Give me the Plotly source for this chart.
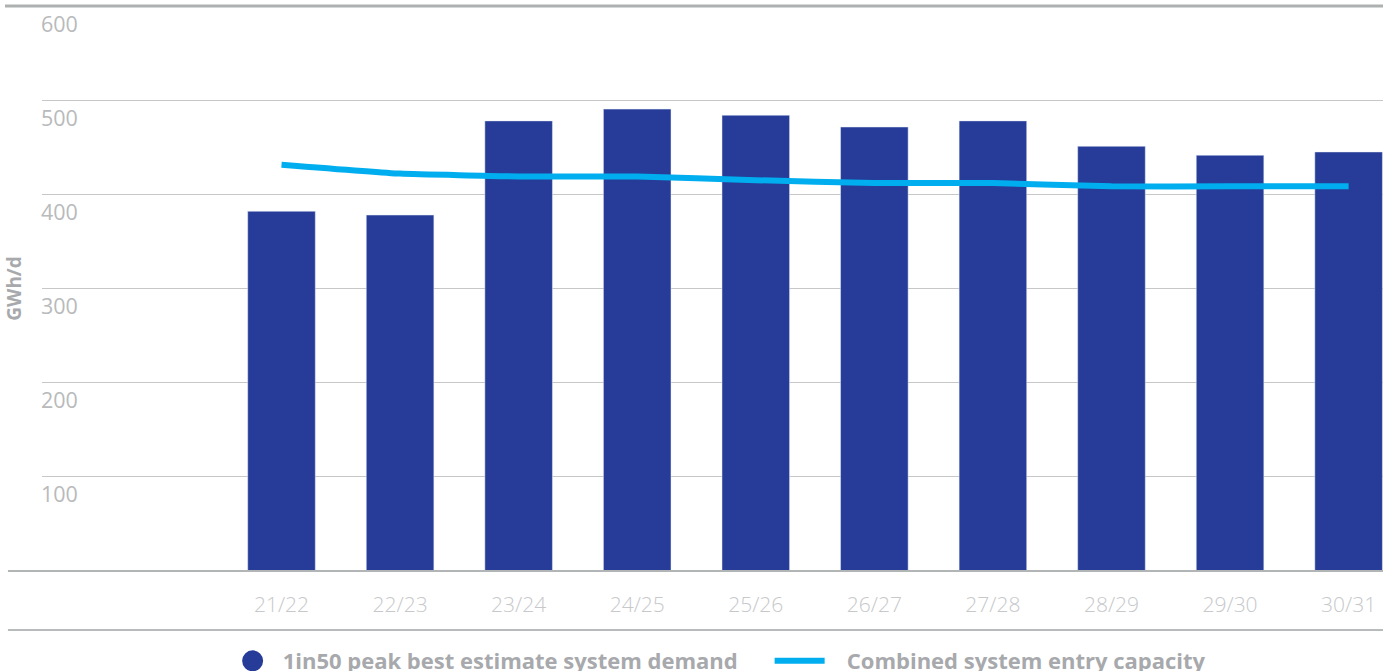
import plotly.graph_objects as go

anos = ['21/22', '22/23', '23/24', '24/25', '25/26', '26/27', '27/28', '28/29', '29/30', '30/31']
demanda = [382, 378, 478, 490.5, 484, 471.5, 478, 451, 441.5, 445]
capacidade = [431.5, 422, 419, 419, 415, 412, 412, 408.5, 408.5, 408.5]
ytks = [100, 200, 300, 400, 500, 600]

cor_barra = '#263c98'
cor_linha = '#00aeef'
cinza = '#a7a9ac'
nbsp = '\u00a0'

fig = go.Figure()
fig.add_trace(go.Bar(x=anos, y=demanda, marker_color=cor_barra, showlegend=False))
# entrada de legenda com circulo
fig.add_trace(go.Scatter(x=[None], y=[None], mode='markers', name='1in50 peak best estimate system demand',
                         marker=dict(size=16, color=cor_barra, line=dict(width=5, color=cor_barra))))
fig.add_trace(go.Scatter(x=anos, y=capacidade, mode='lines', name=nbsp * 3 + 'Combined system entry capacity',
                         line=dict(color=cor_linha, width=6, shape='spline', smoothing=0.4)))

fig.update_xaxes(type='category', range=[-2.02, 9.29], showgrid=False, showline=False, ticks='',
                 automargin=False,
                 tickfont=dict(family='Open Sans', size=21, color='#c6c8ca', weight=300),
                 ticklabelstandoff=19)
fig.update_yaxes(range=[0, 600], tickvals=ytks, showgrid=True, gridcolor='#c6c8c8', gridwidth=1,
                 zeroline=False, showline=False, ticks='', automargin=False,
                 ticklabelposition='inside bottom', ticklabelshift=3, ticklabelstandoff=-4,
                 tickfont=dict(family='Open Sans', size=21.5, color='#b8babb'),
                 title=dict(text='GWh/d', standoff=14,
                            font=dict(family='Open Sans', size=19, color=cinza, weight='bold')))

linhas = dict(type='line', xref='paper', yref='paper', x1=1.0)
fig.add_shape(**linhas, x0=-0.0276, y0=1, y1=1, line=dict(color='#aeb1b1', width=3))
fig.add_shape(**linhas, x0=-0.0254, y0=0, y1=0, line=dict(color='#b2b5b5', width=2))
fig.add_shape(**linhas, x0=-0.0254, y0=-0.1044, y1=-0.1044, line=dict(color='#b8bbbb', width=2))

fig.update_layout(width=1389, height=671, margin=dict(l=42, r=6, t=6, b=100, autoexpand=False),
                  plot_bgcolor='white', paper_bgcolor='white', bargap=0.43,
                  font=dict(family='Open Sans'),
                  legend=dict(orientation='h', x=0.1347, xanchor='left', y=-0.1593, yanchor='middle',
                              itemwidth=50, traceorder='normal', entrywidth=482,
                              font=dict(family='Open Sans', size=22, color=cinza, weight='bold')))
fig.write_html('out.html', config={'displayModeBar': False},
               post_script="document.body.style.margin='0px';")
